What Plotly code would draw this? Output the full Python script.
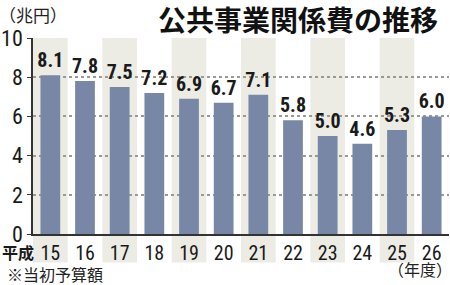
import plotly.graph_objects as go

years = ["15", "16", "17", "18", "19", "20", "21", "22", "23", "24", "25", "26"]
values = [8.1, 7.8, 7.5, 7.2, 6.9, 6.7, 7.1, 5.8, 5.0, 4.6, 5.3, 6.0]
labels = ["8.1", "7.8", "7.5", "7.2", "6.9", "6.7", "7.1", "5.8", "5.0", "4.6", "5.3", "6.0"]
yticks = [0, 2, 4, 6, 8, 10]

NUM = "Liberation Sans Narrow, Roboto Condensed, Arial Narrow, Liberation Sans, sans-serif"
JP = "Noto Sans CJK JP, sans-serif"

fig = go.Figure()
fig.add_trace(go.Bar(
    x=list(range(len(years))), y=values, text=labels, textposition="outside",
    constraintext="none",
    textfont=dict(family=NUM, size=20, color="#1a1a1a", weight="bold"),
    marker=dict(color="#7787a5", line=dict(width=0)),
    width=0.57, cliponaxis=False,
))

shapes = []
for i in range(0, len(years), 2):
    shapes.append(dict(type="rect", xref="x", yref="paper", x0=i - 0.5, x1=i + 0.5,
                       y0=-0.145, y1=1.0, fillcolor="#ecece5", line=dict(width=0), layer="below"))

fig.update_layout(
    width=450, height=285, margin=dict(l=30, r=1, t=38, b=51),
    paper_bgcolor="white", plot_bgcolor="white", showlegend=False,
    shapes=shapes,
    xaxis=dict(tickmode="array", tickvals=list(range(len(years))), ticktext=years,
               range=[-0.5, len(years) - 0.5], showgrid=False, ticks="",
               tickfont=dict(family=NUM, size=20, color="#1a1a1a"),
               showline=True, linecolor="#333", linewidth=1.5, zeroline=False),
    yaxis=dict(range=[0, 10], tickvals=yticks, ticks="outside", ticklen=4, tickcolor="#333",
               tickfont=dict(family=NUM, size=22, color="#1a1a1a"),
               showgrid=True, gridcolor="#9a9a92", griddash="dot", gridwidth=1.5,
               showline=True, linecolor="#333", linewidth=1.5, zeroline=False),
    annotations=[
        dict(text="公共事業関係費の推移", x=(297 - 30) / 419, y=1 + (38 - 19) / 196,
             xref="paper", yref="paper", showarrow=False,
             font=dict(family=JP, size=28, color="#111", weight="bold"), xanchor="center", yanchor="middle"),
        dict(text="（兆円）", x=0, y=1, xref="paper", yref="paper", showarrow=False,
             font=dict(family=JP, size=17, color="#222"), xanchor="left", yanchor="bottom",
             xshift=-36, yshift=9),
        dict(text="平成", x=0, y=0, xref="x", yref="paper", showarrow=False,
             font=dict(family=JP, size=16, color="#1a1a1a", weight="bold"),
             xanchor="right", yanchor="top", xshift=-14, yshift=-4),
        dict(text="※当初予算額", x=0, y=0, xref="paper", yref="paper", showarrow=False,
             font=dict(family=JP, size=16, color="#222"), xanchor="left", yanchor="top",
             xshift=-28, yshift=-26),
        dict(text="（年度）", x=11, y=0, xref="x", yref="paper", showarrow=False,
             font=dict(family=JP, size=16, color="#222"), xanchor="center", yanchor="bottom",
             xshift=-12, yshift=-49),
    ],
)
fig.write_html("out.html")
